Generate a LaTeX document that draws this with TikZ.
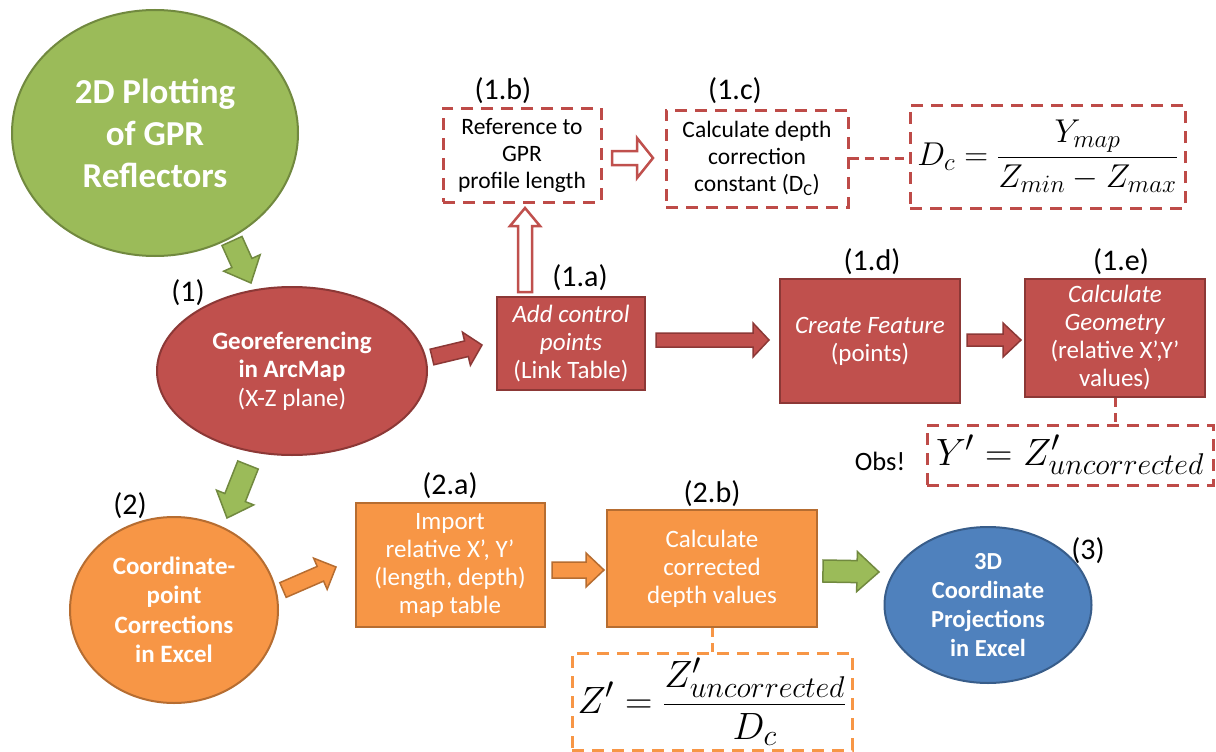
\RequirePackage{fix-cm}
\documentclass[tikz,border=0pt]{standalone}
\usepackage[no-math]{fontspec}
\setmainfont{Carlito}
\usetikzlibrary{shapes.geometric,calc}
\DeclareMathSizes{33}{33}{25}{19}
\DeclareMathSizes{38}{38}{30}{23}
\definecolor{gfill}{HTML}{9BBB59}
\definecolor{gbord}{HTML}{71893F}
\definecolor{rfill}{HTML}{C0504D}
\definecolor{rbord}{HTML}{8C3836}
\definecolor{ofill}{HTML}{F79646}
\definecolor{obord}{HTML}{B66D31}
\definecolor{bfill}{HTML}{4F81BD}
\definecolor{bbord}{HTML}{385D8A}
\definecolor{dred}{HTML}{BE4B48}
\newcommand\blockarrow[6]{%
  \coordinate (bac) at ($(#2)!#5pt!(#1)$);
  \draw[#6] ($(#1)!#3pt!90:(#2)$) -- ($(bac)!#3pt!90:(#2)$) -- ($(bac)!#4pt!90:(#2)$) -- (#2)
    -- ($(bac)!#4pt!-90:(#2)$) -- ($(bac)!#3pt!-90:(#2)$) -- ($(#1)!#3pt!-90:(#2)$) -- cycle;}
\tikzset{
  lab/.style={font=\fontsize{30}{34}\selectfont, inner sep=0},
  ellbase/.style={ellipse, line width=2pt, text=white, align=center, inner sep=0, font=\fontsize{24.5}{29}\selectfont\bfseries},
  gell/.style={ellbase, draw=gbord, fill=gfill},
  rell/.style={ellbase, draw=rbord, fill=rfill},
  oell/.style={ellbase, draw=obord, fill=ofill},
  bell/.style={ellbase, draw=bbord, fill=bfill},
  boxbase/.style={rectangle, line width=2pt, text=white, align=center, inner sep=0, font=\fontsize{25}{28}\selectfont},
  rbox/.style={boxbase, draw=rbord, fill=rfill},
  obox/.style={boxbase, draw=obord, fill=ofill},
  dbox/.style={rectangle, draw=dred, line width=3pt, dash pattern=on 12pt off 8pt, align=center, inner sep=0, font=\fontsize{23.5}{27}\selectfont},
  dobox/.style={dbox, draw=ofill},
  dlink/.style={draw=dred, line width=3pt, dash pattern=on 9pt off 6pt},
  dolink/.style={dlink, draw=ofill},
  garrow/.style={fill=gfill, draw=gbord, line width=1.5pt},
  rarrow/.style={fill=rfill, draw=rbord, line width=1.5pt},
  oarrow/.style={fill=ofill, draw=obord, line width=1.5pt},
  harrow/.style={fill=white, draw=rfill, line width=2.5pt},
}
\begin{document}
\begin{tikzpicture}[x=1pt,y=-1pt]
\useasboundingbox (0,0) rectangle (1216,752);
\fill[white] (0,0) rectangle (1216,752);

% ellipses
\node[gell, minimum width=286, minimum height=246, font=\fontsize{35}{42}\selectfont\bfseries] (plot) at (155,133) {2D Plotting\\of GPR\\Reflectors};
\node[rell, minimum width=270, minimum height=168, font=\fontsize{25}{28.5}\selectfont\bfseries] (geo) at (292,371) {Georeferencing\\in ArcMap\\{\mdseries (X-Z plane)}};
\node[oell, minimum width=208, minimum height=186, font=\fontsize{25}{29.5}\selectfont\bfseries] (coord) at (174,610) {Coordinate-\\point\\Corrections\\in Excel};
\node[bell, minimum width=207, minimum height=156] (proj) at (988,605) {3D\\Coordinate\\Projections\\in Excel};

% filled boxes
\node[rbox, minimum width=148, minimum height=93] (n1a) at (571,343.5) {\textit{Add control}\\\textit{points}\\(Link Table)};
\node[rbox, minimum width=180, minimum height=124] (n1d) at (870,341) {\textit{Create Feature}\\(points)};
\node[rbox, minimum width=180, minimum height=118] (n1e) at (1115,338) {\textit{Calculate}\\\textit{Geometry}\\(relative X’,Y’\\values)};
\node[obox, minimum width=189, minimum height=124] (n2a) at (450,565) {Import\\relative X’, Y’\\(length, depth)\\map table};
\node[obox, minimum width=210, minimum height=117] (n2b) at (712,568.5) {Calculate\\corrected\\depth values};

% dashed boxes
\node[dbox, minimum width=158, minimum height=94] (n1b) at (522,155) {Reference to\\GPR\\profile length};
\node[dbox, minimum width=182, minimum height=97] (n1c) at (757,158.5) {Calculate depth\\correction\\constant (D\textsubscript{C})};
\node[dbox, minimum width=275, minimum height=103, font=\fontsize{33}{38}\selectfont] (fdc) at (1047.5,156.5) {$\displaystyle D_c=\frac{Y_{map}}{Z_{min}-Z_{max}}$};
\node[dbox, minimum width=286, minimum height=60, font=\fontsize{38}{40}\selectfont] (fobs) at (1070,455) {$Y'=Z'_{uncorrected}$};
\node[dobox, minimum width=280, minimum height=97, font=\fontsize{38}{40}\selectfont] (fz) at (712,701.5) {$\displaystyle Z'=\frac{Z'_{uncorrected}}{D_c}$};

% labels
\node[lab] (l1) at (188,293) {(1)};
\node[lab] (l1a) at (580,278) {(1.a)};
\node[lab] (l1b) at (503,91) {(1.b)};
\node[lab] (l1c) at (735,91) {(1.c)};
\node[lab] (l1d) at (872,262) {(1.d)};
\node[lab] (l1e) at (1121,262) {(1.e)};
\node[lab] (l2) at (130,506) {(2)};
\node[lab] (l2a) at (450,486) {(2.a)};
\node[lab] (l2b) at (712,494) {(2.b)};
\node[lab] (l3) at (1088,551) {(3)};
\node[lab, font=\fontsize{26.5}{30}\selectfont] (obs) at (880,461) {Obs!};

% dashed links
\draw[dlink] (n1c.east) -- (n1c.east -| fdc.west);
\draw[dlink] (n1e.south) -- (n1e.south |- fobs.north);
\draw[dolink] (n2b.south) -- (fz.north);

% arrow end points
\coordinate (g1s) at (232,241); \coordinate (g1e) at (251,283);
\coordinate (r1s) at (432,357); \coordinate (r1e) at (482,345);
\coordinate (r2s) at (656,340); \coordinate (r2e) at (769,340);
\coordinate (r3s) at (967,340); \coordinate (r3e) at (1021,340);
\coordinate (h1s) at (525,292); \coordinate (h1e) at (525,208);
\coordinate (h2s) at (612,158); \coordinate (h2e) at (653,158);
\coordinate (g2s) at (248,465); \coordinate (g2e) at (227,518);
\coordinate (o1s) at (283,590); \coordinate (o1e) at (336,567);
\coordinate (o2s) at (552,570); \coordinate (o2e) at (604,570);
\coordinate (g3s) at (823,571); \coordinate (g3e) at (879,572);

\blockarrow{g1s}{g1e}{11}{20}{22}{garrow}
\blockarrow{g2s}{g2e}{11}{20}{22}{garrow}
\blockarrow{g3s}{g3e}{11}{20}{22}{garrow}
\blockarrow{r1s}{r1e}{8}{17}{16}{rarrow}
\blockarrow{r2s}{r2e}{7}{17}{16}{rarrow}
\blockarrow{r3s}{r3e}{6}{17}{18}{rarrow}
\blockarrow{h1s}{h1e}{7}{15}{18}{harrow}
\blockarrow{h2s}{h2e}{7}{20}{16}{harrow}
\blockarrow{o1s}{o1e}{8}{17}{17}{oarrow}
\blockarrow{o2s}{o2e}{8}{17}{18}{oarrow}
\end{tikzpicture}
\end{document}
